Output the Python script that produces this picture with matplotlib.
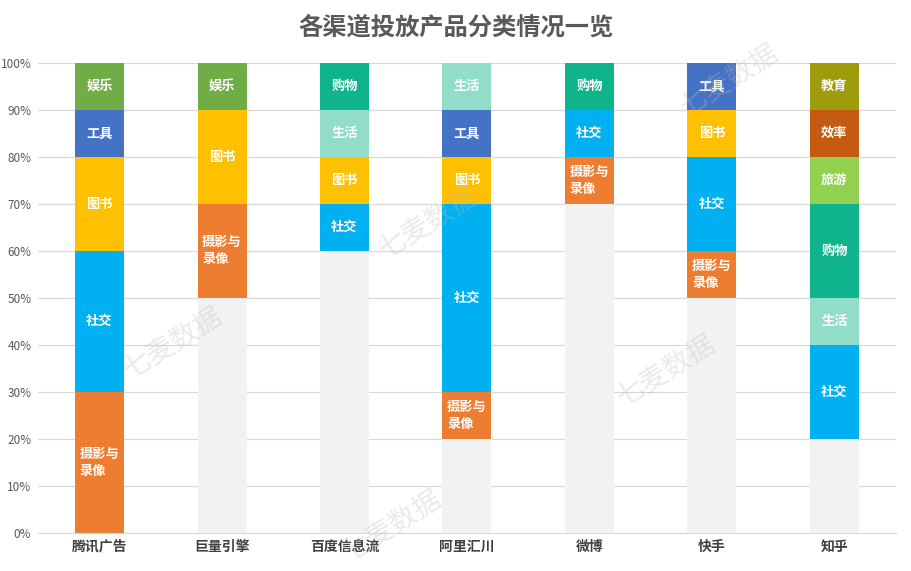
import matplotlib
matplotlib.use('Agg')
import matplotlib.pyplot as plt
import numpy as np

plt.rcParams['font.family'] = ['Noto Sans CJK SC', 'DejaVu Sans']

channels = ['腾讯广告', '巨量引擎', '百度信息流', '阿里汇川', '微博', '快手', '知乎']
base = [0, 50, 60, 20, 70, 50, 20]
photo = [30, 20, 0, 10, 10, 10, 0]
social = [30, 0, 10, 40, 10, 20, 20]
books = [20, 20, 10, 10, 0, 10, 0]
tools = [10, 0, 0, 10, 0, 10, 0]
life = [0, 0, 10, 10, 0, 0, 10]
shopping = [0, 0, 10, 0, 10, 0, 20]
travel = [0, 0, 0, 0, 0, 0, 10]
efficiency = [0, 0, 0, 0, 0, 0, 10]
education = [0, 0, 0, 0, 0, 0, 10]
fun = [10, 10, 0, 0, 0, 0, 0]

series = [
    ('摄影与\n录像', photo, '#ED7D31'),
    ('社交', social, '#00B0F0'),
    ('图书', books, '#FFC000'),
    ('工具', tools, '#4472C4'),
    ('生活', life, '#92DCCA'),
    ('购物', shopping, '#10B48C'),
    ('旅游', travel, '#92D050'),
    ('效率', efficiency, '#C55A11'),
    ('教育', education, '#9C9C0C'),
    ('娱乐', fun, '#70AD47'),
]

fig = plt.figure(figsize=(9.12, 5.71), dpi=100)
ax = fig.add_axes([0.042, 0.067, 0.94, 0.823])

x = np.arange(len(channels))
w = 0.4
bottom = np.array(base, dtype=float)
ax.bar(x, base, w, color='#F2F2F2', zorder=2)
for name, vals, col in series:
    vals = np.array(vals, dtype=float)
    ax.bar(x, vals, w, bottom=bottom, color=col, zorder=2)
    for i, v in enumerate(vals):
        if v > 0:
            ax.text(x[i], bottom[i] + v / 2, name, ha='center', va='center',
                    multialignment='left', color='white', fontsize=9.5,
                    fontweight='bold', linespacing=1.3, zorder=3)
    bottom += vals

ax.set_xlim(-0.5, len(channels) - 0.5)
ax.set_ylim(0, 100)
ax.set_yticks(range(0, 101, 10))
ax.set_yticklabels([f'{v}%' for v in range(0, 101, 10)], color='#595959', fontsize=8.5)
ax.set_xticks(x)
ax.set_xticklabels(channels, fontsize=10, fontweight='bold', color='#404040')
ax.yaxis.grid(True, color='#D9D9D9', linewidth=0.9, zorder=0)
for s in ['top', 'right', 'left']:
    ax.spines[s].set_visible(False)
ax.spines['bottom'].set_color('#D9D9D9')
ax.tick_params(axis='both', length=0, pad=5)

fig.text(0.5, 0.951, '各渠道投放产品分类情况一览', ha='center', va='center',
         fontsize=17.5, fontweight='bold', color='#595959')

# watermarks
for wx, wy in [(0.19, 0.40), (0.47, 0.61), (0.43, 0.08), (0.73, 0.35), (0.80, 0.86)]:
    fig.text(wx, wy, '七麦数据', rotation=32, ha='center', va='center',
             fontsize=20, color='#BBBBBB', alpha=0.3, zorder=10)

fig.savefig('out.png', dpi=100, facecolor='white')
